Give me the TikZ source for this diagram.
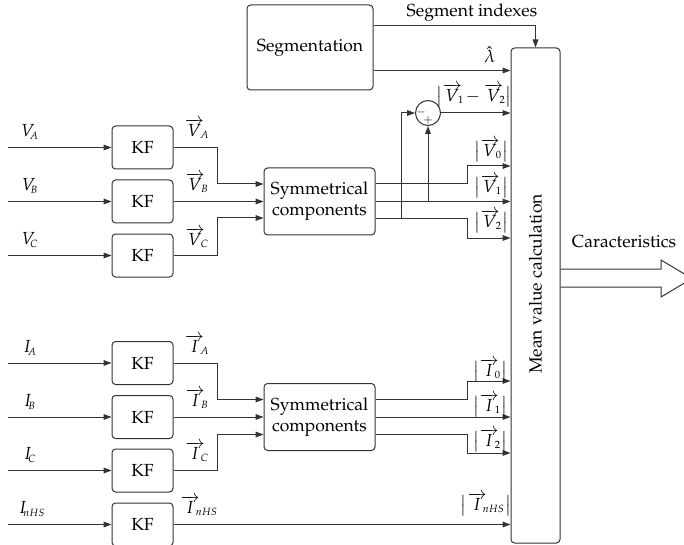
\documentclass[tikz,border=0pt]{standalone}
\usepackage[T1]{fontenc}
\usepackage{mathpazo}
\usetikzlibrary{arrows.meta,calc}
\newcommand{\mysub}[1]{_{\!\scriptscriptstyle #1}}
\newcommand{\myvec}[2]{\overrightarrow{#1}\mkern-4mu_{\scriptscriptstyle #2}}
\begin{document}
\begin{tikzpicture}[x=0.6pt,y=-0.6pt,
  font=\fontsize{10.5}{12.5}\selectfont,
  line width=0.6pt,
  box/.style={draw=black!80,rounded corners=2.2pt,inner sep=0pt,align=center},
  kf/.style={box,minimum width=36.6pt,minimum height=25.8pt},
  sym/.style={box,minimum width=66.6pt,minimum height=40.2pt},
  arr/.style={draw=black!80,-{Triangle[length=4.8pt,width=3.4pt]}},
  lab/.style={inner sep=0pt}]
\useasboundingbox (0,0) rectangle (684,545);

% boxes
\node[box,minimum width=75.6pt,minimum height=51pt] (Seg) at (310,47.5) {Segmentation};
\node[box,minimum width=29.4pt,minimum height=297pt] (Mean) at (535.5,295.5) {};
\node[rotate=90,lab] (MeanLab) at (535.5,284) {Mean value calculation};

\node[kf] (KFVA) at (142.5,147.5) {KF};
\node[kf] (KFVB) at (142.5,201.5) {KF};
\node[kf] (KFVC) at (142.5,255.5) {KF};
\node[kf] (KFIA) at (142.5,363) {KF};
\node[kf] (KFIB) at (142.5,417) {KF};
\node[kf] (KFIC) at (142.5,470.5) {KF};
\node[kf] (KFIN) at (142.5,524.5) {KF};

\node[sym] (SymV) at (319.5,201.5) {Symmetrical\\components};
\node[sym] (SymI) at (319.5,417) {Symmetrical\\components};

\node[draw=black!80,circle,minimum size=15pt,inner sep=0pt] (C) at (428,113) {};
\node[lab,font=\scriptsize] (Cm) at (421,112) {$-$};
\node[lab,font=\scriptsize] (Cp) at (428,120.5) {$+$};

% inputs
\coordinate (iVA) at (8,147.5);
\coordinate (iVB) at (8,201.5);
\coordinate (iVC) at (8,255.5);
\coordinate (iIA) at (8,363);
\coordinate (iIB) at (8,417);
\coordinate (iIC) at (8,470.5);
\coordinate (iIN) at (8,524.5);
\foreach \a/\b in {iVA/KFVA,iVB/KFVB,iVC/KFVC,iIA/KFIA,iIB/KFIB,iIC/KFIC,iIN/KFIN}
  \draw[arr] (\a) -- (\b);

\node[lab] (lVA) at (30,132) {$V\mysub{A}$};
\node[lab] (lVB) at (30,186) {$V\mysub{B}$};
\node[lab] (lVC) at (30,240) {$V\mysub{C}$};
\node[lab] (lIA) at (30,348) {$I\mysub{A}$};
\node[lab] (lIB) at (30,402) {$I\mysub{B}$};
\node[lab] (lIC) at (30,455) {$I\mysub{C}$};
\node[lab] (lIN) at (32,509) {$I\mysub{nHS}$};

% KF -> Sym
\draw[arr] (KFVA.east) -- ++(44,0) |- ($(SymV.west)+(0,-17.5)$);
\draw[arr] (KFVB) -- (SymV);
\draw[arr] (KFVC.east) -- ++(44,0) |- ($(SymV.west)+(0,16.5)$);
\draw[arr] (KFIA.east) -- ++(44,0) |- ($(SymI.west)+(0,-17.5)$);
\draw[arr] (KFIB) -- (SymI);
\draw[arr] (KFIC.east) -- ++(44,0) |- ($(SymI.west)+(0,17.5)$);

\node[lab] (oVA) at (197,129) {$\myvec{V}{A}$};
\node[lab] (oVB) at (197,183) {$\myvec{V}{B}$};
\node[lab] (oVC) at (197,238) {$\myvec{V}{C}$};
\node[lab] (oIA) at (197,345) {$\myvec{I}{A}$};
\node[lab] (oIB) at (197,399) {$\myvec{I}{B}$};
\node[lab] (oIC) at (197,452) {$\myvec{I}{C}$};
\node[lab] (oIN) at (199,506) {$\myvec{I}{nHS}$};

% Segmentation outputs
\coordinate (segi) at ($(Seg.north east)+(0,21)$);
\draw[arr] (segi) -| (Mean.north);
\node[lab] (SegIdx) at (472,13) {Segment indexes};
\coordinate (lam) at ($(Seg.south east)+(0,-20)$);
\draw[arr] (lam) -- (lam -| Mean.west);
\node[lab] (lLam) at (490,55) {$\hat{\lambda}$};

% Sym V outputs
\coordinate (v0) at ($(SymV.east)+(0,-17.5)$);
\coordinate (v2) at ($(SymV.east)+(0,17.5)$);
\draw[arr] (v0) -- (467,184) -- (467,166) -- (467,166 -| Mean.west);
\draw[arr] (SymV.east) -- (SymV.east -| Mean.west);
\draw[arr] (v2) -- (467,219) -- (467,238) -- (467,238 -| Mean.west);
\draw[arr] (401,219) |- (C.west);
\draw[arr] (C |- SymV.east) -- (C.south);
\draw[arr] (C.east) -- (C.east -| Mean.west);

\node[lab] (lV12) at (474,96) {$\bigl|\myvec{V}{1}\mkern-2mu-\myvec{V}{2}\bigr|$};
\node[lab] (lV0) at (491,151) {$\bigl|\myvec{V}{0}\bigr|$};
\node[lab] (lV1) at (491,187) {$\bigl|\myvec{V}{1}\bigr|$};
\node[lab] (lV2) at (491,222) {$\bigl|\myvec{V}{2}\bigr|$};

% Sym I outputs
\coordinate (i0) at ($(SymI.east)+(0,-17.5)$);
\coordinate (i2) at ($(SymI.east)+(0,17.5)$);
\draw[arr] (i0) -- (467,399.5) -- (467,381) -- (467,381 -| Mean.west);
\draw[arr] (SymI.east) -- (SymI.east -| Mean.west);
\draw[arr] (i2) -- (467,434.5) -- (467,453) -- (467,453 -| Mean.west);
\draw[arr] (KFIN) -- (KFIN -| Mean.west);

\node[lab] (lI0) at (490,371) {$\bigl|\myvec{I}{0}\bigr|$};
\node[lab] (lI1) at (490,406) {$\bigl|\myvec{I}{1}\bigr|$};
\node[lab] (lI2) at (490,441) {$\bigl|\myvec{I}{2}\bigr|$};
\node[lab] (lIN2) at (486,505) {$\bigl|\myvec{I}{nHS}\bigr|$};

% big output arrow
\draw[draw=black!80] (Mean.east |- 0,269) -- (661,269) -- (661,260) -- (692,278.5) -- (661,297) -- (661,287) -- (Mean.east |- 0,287);
\node[lab] (lCar) at (624,242) {Caracteristics};
\end{tikzpicture}
\end{document}
